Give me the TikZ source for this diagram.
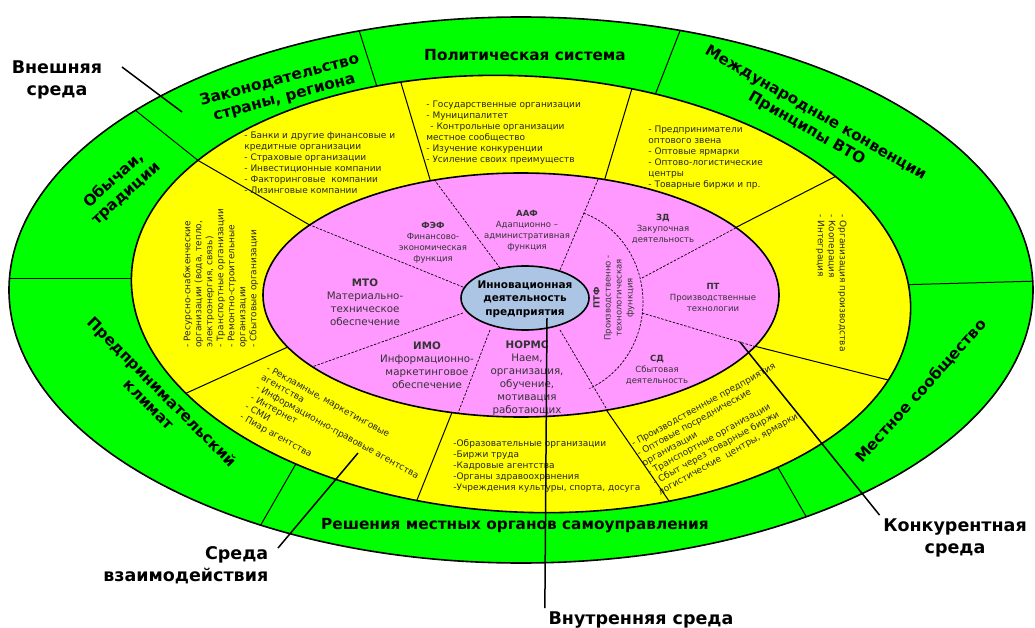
\documentclass[tikz,border=0pt]{standalone}
\usepackage{fontspec}
\setmainfont{DejaVu Sans}
\definecolor{envgreen}{RGB}{0,255,0}
\definecolor{envyellow}{RGB}{255,255,0}
\definecolor{envpink}{RGB}{255,153,255}
\definecolor{envblue}{RGB}{173,197,229}
\begin{document}
\begin{tikzpicture}[x=1pt,y=-1pt,thick,
    edge/.style={draw=black,line width=1.6pt},
    div/.style={draw=black,line width=1pt},
    subdiv/.style={draw=black,line width=0.7pt,dash pattern=on 2.5pt off 1.5pt},
    yel/.style={rotate around={-3:(521,294)}},
    head/.style={font=\bfseries\fontsize{15.3}{18}\selectfont,align=center,inner sep=0pt},
    outer/.style={font=\bfseries\fontsize{17.5}{22}\selectfont,align=center},
    lst/.style={font=\fontsize{9}{11}\selectfont,align=left,anchor=north west,inner sep=0pt,text=black!85},
    fn/.style={font=\fontsize{8.5}{11}\selectfont,align=center,inner sep=0pt,text=black!80},
    fnbig/.style={font=\fontsize{10.3}{13}\selectfont,align=center,inner sep=0pt,text=black!80}]
  \useasboundingbox (0,0) rectangle (1035,628);

  \fill[envgreen] (521,290) ellipse (512 and 273);
  \begin{scope}
    \clip (521,290) ellipse (512 and 273);
    \draw[div] (120,98) -- (210,170);
    \draw[div] (0,278) -- (150,278);
    \draw[div] (350,2) -- (385,112);
    \draw[div] (692,0) -- (648,113);
    \draw[div] (895,285) -- (1040,281);
    \draw[div] (765,445) -- (815,532);
    \draw[div] (305,448) -- (255,535);
  \end{scope}
  \draw[edge] (521,290) ellipse (512 and 273);

  \fill[envyellow,yel] (521,294) ellipse (390 and 218);
  \begin{scope}
    \clip[yel] (521,294) ellipse (390 and 218);
    \draw[div] (180,150) -- (320,231);
    \draw[div] (398,73) -- (435,196);
    \draw[div] (636,75) -- (600,195);
    \draw[div] (725,233) -- (850,169);
    \draw[div] (750,345) -- (900,383);
    \draw[div] (605,408) -- (680,517);
    \draw[div] (455,405) -- (405,530);
    \draw[div] (180,396) -- (290,346);
  \end{scope}
  \draw[edge,yel] (521,294) ellipse (390 and 218);

  \fill[envpink] (521,295) ellipse (258 and 122);
  \begin{scope}
    \clip (521,295) ellipse (258 and 122);
    \draw[subdiv] (463,287) -- (300,221);
    \draw[subdiv] (500,268) -- (430,174);
    \draw[subdiv] (560,270) -- (602,170);
    \draw[subdiv] (642,278) -- (745,223);
    \draw[subdiv] (642,313) -- (770,351);
    \draw[subdiv] (560,330) -- (612,418);
    \draw[subdiv] (490,330) -- (455,421);
    \draw[subdiv] (463,313) -- (295,373);
    \draw[subdiv] plot[domain=-71:67,samples=40] ({555+88*cos(\x)},{302+94*sin(\x)});
  \end{scope}
  \draw[edge] (521,295) ellipse (258 and 122);
  \draw[edge,fill=envblue] (525,298) ellipse (64 and 32);

  \node[head,rotate=15] (ZAKON) at (282,89) {Законодательство\\страны, региона};
  \node[head] (POLIT) at (525,55) {Политическая система};
  \node[head,rotate=-30] (MEZHD) at (811,121) {Международные конвенции\\Принципы ВТО};
  \node[head,rotate=48] (MESTN) at (921,391) {Местное сообщество};
  \node[head] (RESH) at (515,526) {Решения местных органов самоуправления};
  \node[head,rotate=-45] (PREDPR) at (156,398) {Предпринимательский\\климат};
  \node[head,rotate=42] (OBYCH) at (120,187) {Обычаи,\\традиции};

  \node[lst] (BANKI) at (244,132) {- Банки и другие финансовые и\\кредитные организации\\- Страховые организации\\- Инвестиционные компании\\- Факторинговые\ \ компании\\- Лизинговые компании};
  \node[lst] (GOS) at (426,101) {- Государственные организации\\- Муниципалитет\\\hspace*{4pt}- Контрольные организации\\местное сообщество\\- Изучение конкуренции\\- Усиление своих преимуществ};
  \node[lst] (OPT) at (648,126) {- Предприниматели\\оптового звена\\- Оптовые ярмарки\\- Оптово-логистические\\центры\\- Товарные биржи и пр.};
  \node[lst,rotate=-90] (ORGPR) at (847,214) {- Организация производства\\- Кооперация\\- Интеграция};
  \node[lst,rotate=29] (PROIZV) at (630,441) {- Производственные предприятия\\- Оптовые посреднические\\организации\\- Транспортные организации\\- Сбыт через товарные биржи\\логистические\ \ центры, ярмарки};
  \node[lst] (OBRAZ) at (453,439) {-Образовательные организации\\-Биржи труда\\-Кадровые агентства\\-Органы здравоохранения\\-Учреждения культуры, спорта, досуга};
  \node[lst,rotate=-29] (REKL) at (269,364) {- Рекламные, маркетинговые\\агентства\\- Информационно-правовые агентства\\- Интернет\\- СМИ\\- Пиар агентства};
  \node[lst,rotate=90] (RESURS) at (183,348) {- Ресурсно-снабженческие\\организации (вода, тепло,\\электроэнергия, связь)\\- Транспортные организации\\- Ремонтно-строительные\\организации\\- Сбытовые организации};

  \node[fn] (FEF) at (433,243) {\textbf{ФЭФ}\\Финансово-\\экономическая\\функция};
  \node[fn] (AAF) at (527,231) {\textbf{ААФ}\\Адапционно –\\административная\\функция};
  \node[fn] (ZD) at (663,229) {\textbf{ЗД}\\Закупочная\\деятельность};
  \node[fn] (PT) at (713,297) {\textbf{ПТ}\\Производственные\\технологии};
  \node[fn] (SD) at (657,370) {\textbf{СД}\\Сбытовая\\деятельность};
  \node[fn,rotate=90] (PTF) at (614,298) {\textbf{ПТФ}\\Производственно -\\технологическая\\функция};
  \node[fnbig] (MTO) at (365,302) {\textbf{МТО}\\Материально-\\техническое\\обеспечение};
  \node[fnbig] (IMO) at (427,365) {\textbf{ИМО}\\Информационно-\\маркетинговое\\обеспечение};
  \node[fnbig] (NORMS) at (527,378) {\textbf{НОРМС}\\Наем,\\организация,\\обучение,\\мотивация\\работающих};
  \node[font=\bfseries\fontsize{10.5}{13.5}\selectfont,align=center,inner sep=0pt] (INNOV) at (525,299) {Инновационная\\деятельность\\предприятия};

  \node[outer] (VNESH) at (57,80) {Внешняя\\среда};
  \node[outer,anchor=east,align=right] (VZAIM) at (272,565) {Среда\\взаимодействия};
  \node[outer] (VNUTR) at (641,620) {Внутренняя среда};
  \node[outer] (KONK) at (955,538) {Конкурентная\\среда};

  \coordinate (vneshP) at (182,112);
  \coordinate (vzaimP) at (358,453);
  \coordinate (vnutrP) at (547,318);
  \coordinate (konkP) at (740,342);
  \draw[line width=1.5pt] (VNESH.east) ++(16,-13) -- (vneshP);
  \draw[line width=1.5pt] (VZAIM.east) ++(6,-17) -- (vzaimP);
  \draw[line width=1.5pt] (VNUTR.north west) -- (vnutrP);
  \draw[line width=1.5pt] (KONK.north west) -- (konkP);
\end{tikzpicture}
\end{document}
